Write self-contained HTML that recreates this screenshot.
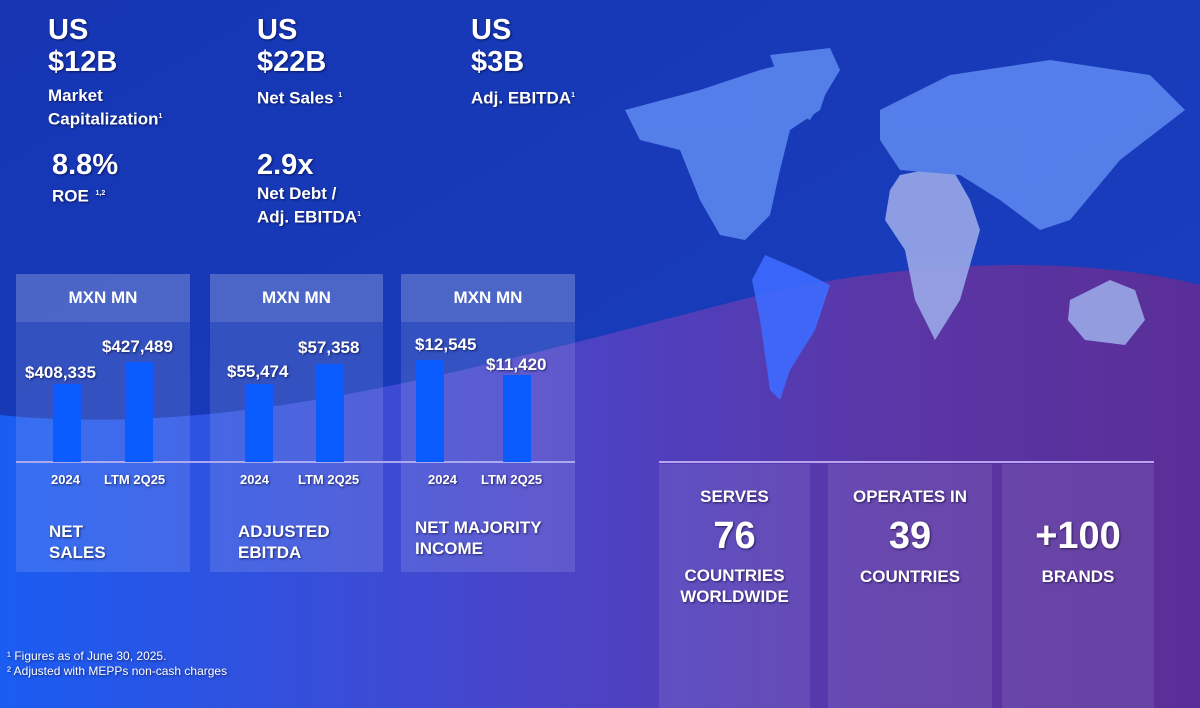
<!DOCTYPE html>
<html><head><style>
*{margin:0;padding:0;box-sizing:border-box}
body{width:1200px;height:708px;overflow:hidden;position:relative;font-family:"Liberation Sans",sans-serif;color:#fff;font-weight:bold;background:#1636b0}
.a{position:absolute;white-space:nowrap;text-shadow:1px 1px 2px rgba(0,0,40,.6)}
.big{font-size:29px;line-height:32px}
.lab{font-size:17px;line-height:21px}
.panel{position:absolute;top:274px;height:298px;background:rgba(255,255,255,.12)}
.ph{position:absolute;left:0;right:0;top:0;height:48px;background:rgba(255,255,255,.12);text-align:center;font-size:17px;line-height:48px}
.bar{position:absolute;background:#0b5cff;bottom:246px;width:28px}
.box{position:absolute;top:464px;height:244px;background:rgba(255,255,255,.09);text-align:center}
.m{font-size:17px;line-height:21px}
.n{font-size:38px;line-height:44px}
</style></head><body>
<svg width="1200" height="708" style="position:absolute;left:0;top:0">
<defs>
<linearGradient id="t" x1="0" y1="0" x2="1" y2="1"><stop offset="0" stop-color="#1636b4"/><stop offset="1" stop-color="#1a40c0"/></linearGradient>
<linearGradient id="b" x1="0" y1="0" x2="1" y2="0"><stop offset="0" stop-color="#1a5cf2"/><stop offset=".45" stop-color="#4a44c8"/><stop offset=".75" stop-color="#5b36a6"/><stop offset="1" stop-color="#5a2e98"/></linearGradient>
</defs>
<rect width="1200" height="708" fill="url(#t)"/>
<path d="M0 415 C250 440 500 360 780 290 C950 255 1100 260 1200 285 L1200 708 L0 708 Z" fill="url(#b)"/>
<g fill="#5b86ee" opacity=".9">
<path d="M625 110 L700 90 L760 70 L800 60 L830 80 L820 110 L790 130 L780 170 L770 215 L745 240 L720 235 L700 200 L680 150 L640 140 Z"/>
<path d="M770 55 L830 48 L840 70 L810 120 L790 110 Z"/>
<path d="M765 255 L800 270 L830 285 L815 330 L790 370 L780 400 L770 390 L760 320 L752 280 Z" fill="#3d6bff"/>
<path d="M900 175 L950 165 L970 200 L980 230 L960 300 L935 340 L915 300 L905 250 L885 220 L890 190 Z" fill="#9aa8e8"/>
<path d="M880 110 L950 75 L1050 60 L1150 75 L1185 110 L1120 160 L1070 220 L1040 230 L1000 200 L960 175 L900 170 L880 140 Z"/>
<path d="M1070 300 L1110 280 L1135 290 L1145 320 L1125 345 L1085 340 L1068 320 Z" fill="#9aa8e8"/>
</g>
</svg>
<div class="a big" style="left:48px;top:14px">US<br>$12B</div>
<div class="a lab" style="left:48px;top:85px">Market<br>Capitalization<sup style="font-size:7px">1</sup></div>
<div class="a big" style="left:257px;top:14px">US<br>$22B</div>
<div class="a lab" style="left:257px;top:85px">Net Sales <sup style="font-size:7px">1</sup></div>
<div class="a big" style="left:471px;top:14px">US<br>$3B</div>
<div class="a lab" style="left:471px;top:85px">Adj. EBITDA<sup style="font-size:7px">1</sup></div>
<div class="a big" style="left:52px;top:149px">8.8%</div>
<div class="a lab" style="left:52px;top:183px">ROE <sup style="font-size:7px">&nbsp;1,2</sup></div>
<div class="a big" style="left:257px;top:149px">2.9x</div>
<div class="a lab" style="left:257px;top:183px">Net Debt /<br>Adj. EBITDA<sup style="font-size:7px">1</sup></div>

<div class="panel" style="left:16px;width:174px"><div class="ph">MXN MN</div></div>
<div class="panel" style="left:210px;width:173px"><div class="ph">MXN MN</div></div>
<div class="panel" style="left:401px;width:174px"><div class="ph">MXN MN</div></div>
<div style="position:absolute;left:16px;top:461px;width:559px;height:2px;background:#a9a8f0"></div>
<div class="bar" style="left:53px;top:384px;height:78px;bottom:auto"></div>
<div class="bar" style="left:125px;top:362px;height:100px;bottom:auto"></div>
<div class="bar" style="left:245px;top:384px;height:78px;bottom:auto"></div>
<div class="bar" style="left:316px;top:364px;height:98px;bottom:auto"></div>
<div class="bar" style="left:416px;top:360px;height:102px;bottom:auto"></div>
<div class="bar" style="left:503px;top:375px;height:87px;bottom:auto"></div>
<div class="a lab" style="left:25px;top:362px">$408,335</div>
<div class="a lab" style="left:102px;top:336px">$427,489</div>
<div class="a lab" style="left:227px;top:361px">$55,474</div>
<div class="a lab" style="left:298px;top:337px">$57,358</div>
<div class="a lab" style="left:415px;top:334px">$12,545</div>
<div class="a lab" style="left:486px;top:354px">$11,420</div>
<div class="a" style="font-size:13px;left:51px;top:472px">2024</div>
<div class="a" style="font-size:13px;left:104px;top:472px">LTM 2Q25</div>
<div class="a" style="font-size:13px;left:240px;top:472px">2024</div>
<div class="a" style="font-size:13px;left:298px;top:472px">LTM 2Q25</div>
<div class="a" style="font-size:13px;left:428px;top:472px">2024</div>
<div class="a" style="font-size:13px;left:481px;top:472px">LTM 2Q25</div>
<div class="a lab" style="left:49px;top:521px">NET<br>SALES</div>
<div class="a lab" style="left:238px;top:521px">ADJUSTED<br>EBITDA</div>
<div class="a lab" style="left:415px;top:517px">NET MAJORITY<br>INCOME</div>

<div style="position:absolute;left:659px;top:461px;width:495px;height:2px;background:#b9a2f0"></div>
<div class="box" style="left:659px;width:151px"></div>
<div class="box" style="left:828px;width:164px"></div>
<div class="box" style="left:1002px;width:152px"></div>
<div class="a m" style="left:659px;width:151px;text-align:center;top:486px">SERVES</div>
<div class="a n" style="left:659px;width:151px;text-align:center;top:514px">76</div>
<div class="a m" style="left:659px;width:151px;text-align:center;top:565px">COUNTRIES<br>WORLDWIDE</div>
<div class="a m" style="left:820px;width:180px;text-align:center;top:486px">OPERATES IN</div>
<div class="a n" style="left:820px;width:180px;text-align:center;top:514px">39</div>
<div class="a m" style="left:820px;width:180px;text-align:center;top:566px">COUNTRIES</div>
<div class="a n" style="left:1002px;width:152px;text-align:center;top:514px">+100</div>
<div class="a m" style="left:1002px;width:152px;text-align:center;top:566px">BRANDS</div>

<div class="a" style="font-weight:normal;font-size:12px;left:7px;top:649px">¹ Figures as of June 30, 2025.</div>
<div class="a" style="font-weight:normal;font-size:12px;left:7px;top:664px">² Adjusted with MEPPs non-cash charges</div>
</body></html>
